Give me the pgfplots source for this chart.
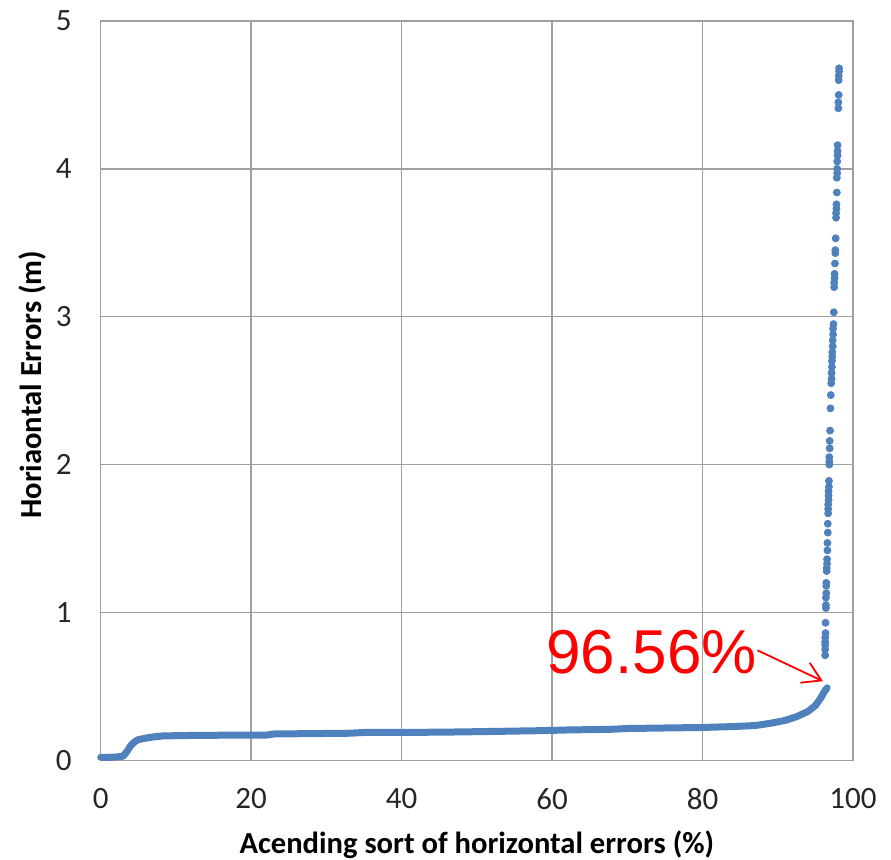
\documentclass[border=0pt]{standalone}
\usepackage{pgfplots}
\pgfplotsset{compat=1.18}
\usepackage{fontspec}
\setmainfont{Carlito}
\newfontfamily\arialfont{Liberation Sans}
\usetikzlibrary{arrows.meta}
\definecolor{serblue}{HTML}{4F81BD}
\definecolor{gridgray}{HTML}{A0A0A0}
\begin{document}
\begin{tikzpicture}
\useasboundingbox (-50.35pt,-49.75pt) rectangle (395.2pt,380.2pt);
\begin{axis}[
  at={(0,0)}, anchor=south west,
  scale only axis,
  width=376.2pt, height=369.7pt,
  xmin=0, xmax=100, ymin=0, ymax=5,
  xtick={0,20,...,100}, ytick={0,1,...,5},
  grid=major,
  major grid style={gridgray, line width=0.75pt},
  axis line style={gridgray, line width=0.75pt},
  major tick length=0pt,
  /pgf/number format/assume math mode=true,
  tick label style={font=\fontsize{15.5}{18}\selectfont, text=black!85},
  xticklabel style={inner sep=0pt, anchor=north, yshift=-14pt},
  yticklabel style={inner sep=0pt, anchor=east, xshift=-14.3pt},
  xlabel={Acending sort of horizontal errors (\%)},
  ylabel={Horiaontal Errors (m)},
  xlabel style={font=\fontsize{15.3}{18}\selectfont\bfseries, at={(axis description cs:0.5,-0.1265)}, anchor=base, inner sep=0pt},
  ylabel style={font=\fontsize{15.3}{18}\selectfont\bfseries, at={(axis description cs:-0.0784,0.508)}, anchor=base, inner sep=0pt},
  clip=false,
]
% dense main curve
\addplot[serblue, line width=3.5pt, line join=round, line cap=round] coordinates {
(0,0.02) (1,0.02) (2,0.022) (3,0.028) (3.5,0.06) (4,0.10) (4.5,0.125) (5,0.14) (6,0.15) (7,0.158) (8.3,0.165) (12,0.168) (17,0.17) (22,0.17) (23,0.178) (33,0.183) (35,0.188) (45,0.19) (52,0.195) (58,0.2) (62,0.205) (68,0.21) (70,0.215) (80,0.222) (84,0.228) (87,0.235) (89,0.25) (91,0.27) (92.5,0.295) (94,0.33) (95,0.37) (95.7,0.42) (96.2,0.465) (96.56,0.49)
};
% scattered tail
\addplot[only marks, mark=*, mark size=1.75pt, color=serblue, mark options={draw=serblue, fill=serblue}] coordinates {
(96.3,0.71) (96.3,0.75) (96.3,0.78) (96.3,0.80) (96.3,0.83) (96.35,0.86) (96.35,0.93) (96.4,1.03) (96.4,1.05) (96.4,1.10) (96.45,1.13) (96.45,1.18) (96.45,1.20)
(96.5,1.28) (96.5,1.30) (96.55,1.33) (96.55,1.36) (96.6,1.42) (96.6,1.47) (96.65,1.54) (96.65,1.60)
(96.7,1.67) (96.7,1.70) (96.7,1.73) (96.75,1.76) (96.75,1.79) (96.75,1.82) (96.8,1.85) (96.8,1.89) (96.85,2.00) (96.85,2.02) (96.85,2.05) (96.9,2.11) (96.9,2.16) (96.95,2.23)
(97.0,2.38) (97.05,2.47) (97.1,2.55) (97.15,2.58) (97.15,2.62) (97.2,2.66) (97.2,2.70) (97.25,2.73) (97.25,2.76) (97.3,2.80) (97.3,2.84) (97.35,2.88) (97.35,2.92) (97.4,2.95)
(97.45,3.03) (97.5,3.20) (97.5,3.23) (97.55,3.26) (97.55,3.29) (97.6,3.36) (97.65,3.43) (97.65,3.45) (97.7,3.53)
(97.75,3.67) (97.75,3.70) (97.8,3.73) (97.8,3.76) (97.85,3.84) (97.85,3.94) (97.9,3.97) (97.9,4.00) (97.9,4.05) (97.95,4.09) (97.95,4.12) (97.95,4.16)
(98.05,4.41) (98.05,4.45) (98.1,4.50) (98.1,4.60) (98.1,4.63) (98.15,4.66) (98.15,4.68)
};
\node[anchor=base west, inner sep=0pt, text=red, font=\arialfont\fontsize{31}{36}\selectfont] at (axis cs:59.2,0.59) {96.56\%};
\draw[red, line width=0.9pt, -{Straight Barb[length=9pt, width=11pt]}] (axis cs:87.3,0.744) -- (axis cs:96.0,0.535);
\end{axis}
\end{tikzpicture}
\end{document}
